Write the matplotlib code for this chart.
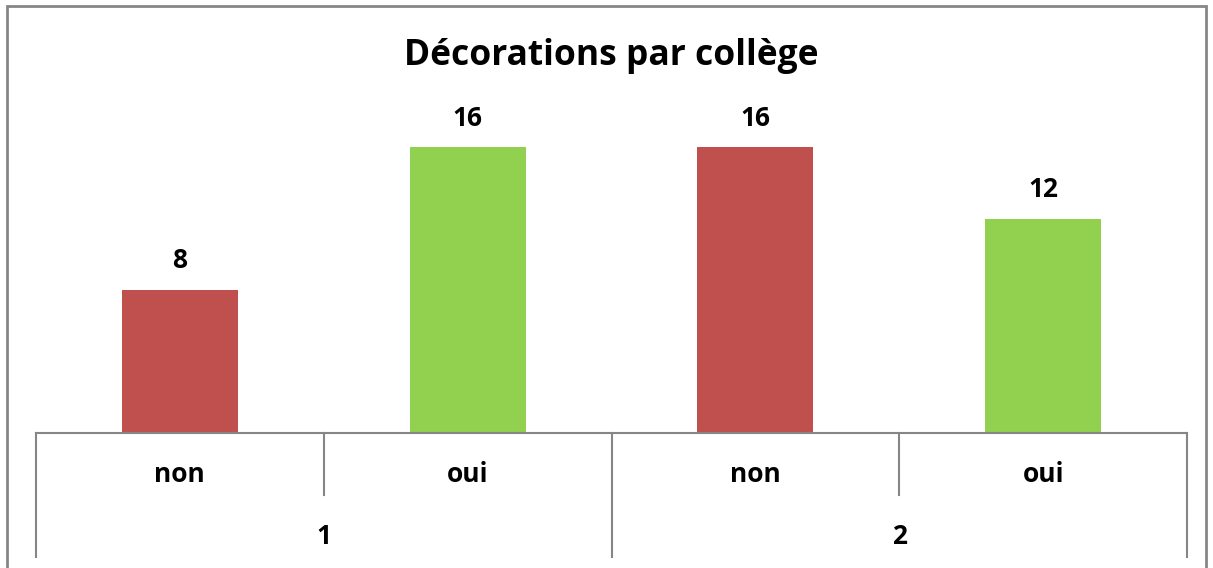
import matplotlib
matplotlib.use("Agg")
import matplotlib.pyplot as plt
from matplotlib.patches import Rectangle

title = "Décorations par collège"
groups = ["1", "2"]
subcats = ["non", "oui", "non", "oui"]
values = [8, 16, 16, 12]
colors = ["#C0504D", "#92D050", "#C0504D", "#92D050"]

W, H = 1213, 568
fig = plt.figure(figsize=(W / 100, H / 100), dpi=100)
plt.rcParams['font.family'] = ['Open Sans', 'DejaVu Sans']

# figure border
fig.patches.append(Rectangle((7 / W, -0.05), (1206 - 7) / W, 1.05 - 6 / H,
                             transform=fig.transFigure, fill=False,
                             edgecolor="#868686", linewidth=2))

ymax = 20
px_per = 286 / 16
base = 433
top = base - ymax * px_per
ax = fig.add_axes([36 / W, (H - base) / H, (1187 - 36) / W, (base - top) / H])
x = list(range(len(values)))
ax.bar(x, values, width=0.403, color=colors)
ax.set_xlim(-0.5, len(values) - 0.5)
ax.set_ylim(0, ymax)
for s in ["left", "right", "top"]:
    ax.spines[s].set_visible(False)
ax.spines["bottom"].set_color("#868686")
ax.spines["bottom"].set_linewidth(1.5)
ax.set_xticks([])
ax.set_yticks([])
ax.patch.set_alpha(0)

axh = base - top
fs = 19
for xi, v in zip(x, values):
    ax.text(xi, v + 29 / px_per, str(v), ha="center", va="center",
            fontsize=fs, fontweight="bold")

tr = ax.get_xaxis_transform()
short = -(495 - base) / axh
long_ = -(557 - base) / axh
for i in range(len(values) + 1):
    xp = i - 0.5
    yend = long_ if i % 2 == 0 else short
    ax.plot([xp, xp], [0, yend], transform=tr, color="#868686", lw=1.5,
            clip_on=False)

for xi, lab in zip(x, subcats):
    ax.text(xi, -(475 - base) / axh, lab, transform=tr, ha="center",
            va="center", fontsize=fs, fontweight="bold")
for gi, g in enumerate(groups):
    ax.text(2 * gi + 0.5, -(537 - base) / axh, g, transform=tr, ha="center",
            va="center", fontsize=fs, fontweight="bold")

fig.text(611 / W, 1 - 56 / H, title, ha="center", va="center",
         fontsize=25.5, fontweight="bold")

fig.savefig("out.png", dpi=100)
